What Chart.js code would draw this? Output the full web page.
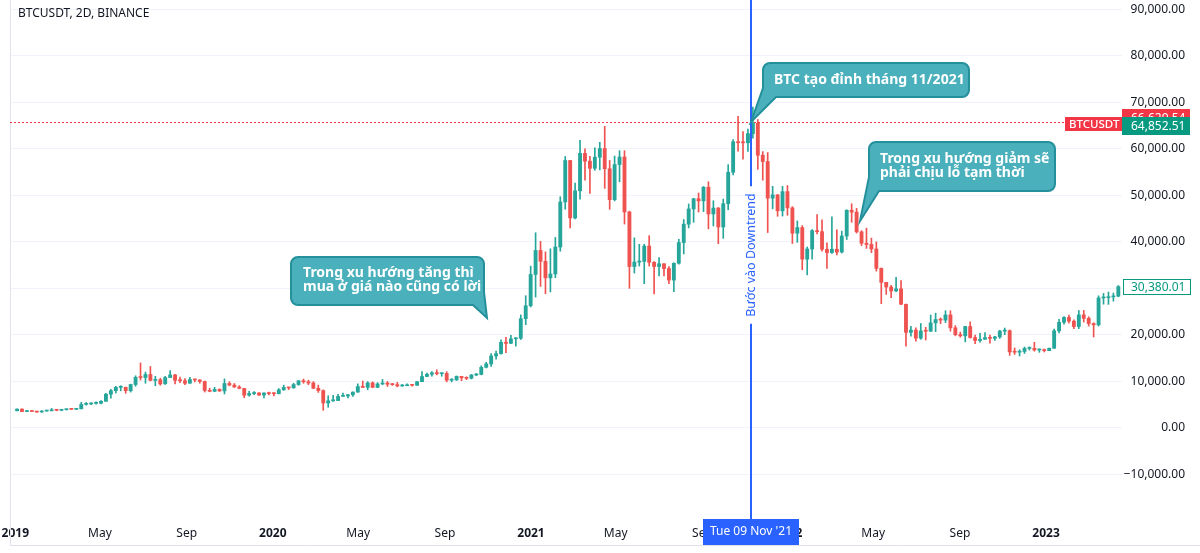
<!DOCTYPE html>
<html>
<head>
<meta charset="utf-8">
<title>BTCUSDT, 2D, BINANCE</title>
<script src="https://cdn.jsdelivr.net/npm/chart.js@4.4.0/dist/chart.umd.min.js"></script>
<style>
  html, body { margin: 0; padding: 0; background: #fff; }
</style>
</head>
<body>
<canvas id="btcChart" width="1200" height="553"></canvas>
<script>
// weekly candles, first week starts Mon 31 Dec 2018
var firstWeek = '2018-12-31';

var open = [
  3690,4040,3510,3540,3530,3410,3630,3680,3820,3790,
  3920,4000,3990,4100,5050,5150,5280,5300,5720,7250,
  8000,8720,8730,8000,9320,10860,10830,11480,10230,10340,
  9470,10820,11390,10230,10140,9600,10400,10310,9990,8060,
  7870,8270,7950,9550,9210,8800,8500,7040,7400,7510,
  7070,7510,7380,7350,8180,8700,8600,9320,10140,9920,
  9660,8530,8030,5360,5830,5880,6770,6860,7120,7700,
  8890,8720,9680,8720,9450,9670,9390,9300,9010,9070,
  9240,9160,9930,11050,11540,11850,11660,11710,10260,10330,
  11080,10770,10670,11370,11500,13030,13760,15480,15960,18410,
  18180,19150,19270,23480,26270,33000,38150,35830,32260,33090,
  38890,48580,57490,45140,50970,59020,57350,55820,58200,60060,
  55720,49070,56620,58240,46420,34700,35660,35800,39100,35600,
  34700,35290,34260,31780,35400,39850,43800,47080,49270,48810,
  51750,46000,47260,43200,48200,54960,61530,61310,61300,63270,
  65500,58620,57270,49400,50100,46680,50800,47300,41860,43080,
  36280,38470,42410,42200,38400,37700,38420,37800,41260,46800,
  46400,42150,39700,39450,38470,34300,31300,30290,29450,29900,
  26580,20550,21030,19300,20850,20790,22580,23300,23180,24300,
  21520,20050,19800,21800,19420,18800,19050,19420,19260,19570,
  20810,20900,16330,16280,16430,17090,17100,16750,16840,16620,
  17130,20870,22700,23750,22950,21800,24300,23560,22430,22150,
  27950,27990,28170,28320
];
var high = [
  4090,4100,3740,3620,3530,3730,3700,4200,3900,3980,
  4050,4080,4140,5500,5470,5400,5630,5900,7450,8300,
  8950,9080,8800,9400,11200,13970,12000,13200,11100,10680,
  11100,12330,11540,10950,10620,10900,10480,10360,10070,8530,
  8720,8410,10540,9950,9550,9090,8500,7850,7800,7620,
  7520,7700,7600,8460,9190,8750,9580,10150,10500,10250,
  9960,9190,8180,6900,6980,7200,7470,7200,7740,9470,
  10070,9950,9900,9740,10430,9990,9580,9800,9350,9480,
  9350,10000,12120,11800,12090,12480,11800,12090,10600,11180,
  11100,10990,11490,11720,13350,14100,15970,16500,18950,19490,
  19880,19420,24300,28420,34780,41950,40100,37850,38500,40950,
  49700,58350,57540,52640,61840,60000,58400,60200,61400,64850,
  57500,58450,59600,59600,46600,40850,39480,39500,41330,35750,
  36600,35290,34700,35500,40550,44800,48150,49380,50500,51900,
  52920,48840,47400,49200,56600,62000,67000,63700,64270,69000,
  66300,59400,59200,51950,50200,51950,52100,47570,44500,43500,
  38900,42650,45850,44750,39800,45400,42600,42300,46900,48200,
  47200,42400,42950,40800,40000,34400,31300,30650,32400,31700,
  26600,21850,21500,22450,21620,24280,24670,23650,25200,25200,
  22000,20600,21860,22800,19950,20350,20480,19950,19700,21000,
  21470,21070,17190,16800,17400,17420,18400,17000,16970,17170,
  21260,23370,23950,24250,23250,25250,25250,23900,22600,28400,
  28900,29200,29000,30600
];
var low = [
  3630,3470,3500,3480,3350,3370,3580,3660,3670,3680,
  3830,3960,3950,4090,4900,5020,5080,5150,5680,6400,
  7500,7980,7450,7700,8950,10300,9600,10100,9070,9170,
  9360,10800,9470,9730,9320,9600,9880,9600,7710,7760,
  7780,7830,7300,9050,8680,8400,6500,6850,7150,7000,
  6430,7110,6860,7300,8080,8240,8550,9160,9600,9300,
  8410,7630,3780,4440,5690,5860,6770,6470,6750,7650,
  8660,8200,8640,8630,9270,8900,9140,8830,8940,9060,
  9000,9140,9930,11000,11150,11400,11110,9900,9880,10200,
  10140,10380,10530,11220,11410,12900,13220,14800,15850,16200,
  18110,17600,19000,22200,26000,28130,30420,28850,29240,32300,
  37990,47000,43000,44950,49200,53270,50430,55400,55470,51500,
  47000,48800,52900,43830,30000,33300,34800,31000,34800,28800,
  32700,32700,31000,29280,35200,37400,43000,44200,46400,46500,
  42800,43400,39600,40750,46900,54400,59500,57800,59450,62300,
  55600,53250,42000,47100,45500,45550,45700,39650,39900,34000,
  32900,36300,41700,38000,34300,37500,37200,37600,40500,44200,
  41900,39200,38600,37700,33700,26700,28700,28000,29300,26500,
  17600,19750,18650,19050,18900,20750,20700,22400,22650,20800,
  19800,19500,18500,19300,18100,18450,19000,18200,18800,19250,
  20050,15600,15800,15480,16000,16730,16500,16250,16330,16600,
  17100,20400,22300,22500,21350,21350,22750,21900,19550,21900,
  26600,26550,27250,28200
];
var close = [
  4040,3510,3540,3530,3410,3630,3680,3820,3790,3920,
  4000,3990,4100,5050,5150,5280,5300,5720,7250,8000,
  8720,8730,8000,9320,10860,10830,11480,10230,10340,9470,
  10820,11390,10230,10140,9600,10400,10310,9990,8060,7870,
  8270,7950,9550,9210,8800,8500,7040,7400,7510,7070,
  7510,7380,7350,8180,8700,8600,9320,10140,9920,9660,
  8530,8030,5360,5830,5880,6770,6860,7120,7700,8890,
  8720,9680,8720,9450,9670,9390,9300,9010,9070,9240,
  9160,9930,11050,11540,11850,11660,11710,10260,10330,11080,
  10770,10670,11370,11500,13030,13760,15480,15960,18410,18180,
  19150,19270,23480,26270,33000,38150,35830,32260,33090,38890,
  48580,57490,45140,50970,59020,57350,55820,58200,60060,55720,
  49070,56620,58240,46420,34700,35660,35800,39100,35600,34700,
  35290,34260,31780,35400,39850,43800,47080,49270,48810,51750,
  46000,47260,43200,48200,54960,61530,61310,61300,63270,65500,
  58620,57270,49400,50100,46680,50800,47300,41860,43080,36280,
  38470,42410,42200,38400,37700,38420,37800,41260,46800,46400,
  42150,39700,39450,38470,34300,31300,30290,29450,29900,26580,
  20550,21030,19300,20850,20790,22580,23300,23180,24300,21520,
  20050,19800,21800,19420,18800,19050,19420,19260,19570,20810,
  20900,16330,16280,16430,17090,17100,16750,16840,16620,17130,
  20870,22700,23750,22950,21800,24300,23560,22430,22150,27950,
  27990,28170,28320,30380
];

var yTicks = [-10000, 0, 10000, 20000, 30000, 40000, 50000, 60000, 70000, 80000, 90000];
var xTickDates = ['2019-01-01','2019-05-01','2019-09-01','2020-01-01','2020-05-01','2020-09-01',
  '2021-01-01','2021-05-01','2021-09-01','2022-01-01','2022-05-01','2022-09-01','2023-01-01'];
var xTickLabels = ['2019','May','Sep','2020','May','Sep','2021','May','Sep','2022','May','Sep','2023'];

var topDate = '2021-11-09';
var topDateLabel = "Tue 09 Nov '21";
var lastPrice = 30380.01;
var markPrice = 65700;
var redTag = 66629.54, greenTag = 64852.51;

var UP = '#26a69a', DOWN = '#ef5350';
var DAY_MS = 86400000, ORIGIN = Date.UTC(2019, 0, 1);

function dayOf(s) {
  var p = s.split('-').map(Number);
  return (Date.UTC(p[0], p[1] - 1, p[2]) - ORIGIN) / DAY_MS;
}
function fmt(v) {
  var s = Math.abs(v).toLocaleString('en-US', { minimumFractionDigits: 2, maximumFractionDigits: 2 });
  return (v < 0 ? '\u2212' : '') + s;
}

// candle centre = middle of the week
var weekMid = close.map(function (_, i) { return dayOf(firstWeek) + i * 7 + 3.5; });
var bodies = close.map(function (c, i) { return { x: weekMid[i], y: [open[i], c] }; });
var wicks = close.map(function (c, i) { return { x: weekMid[i], y: [low[i], high[i]] }; });
var candleColor = function (ctx) { return close[ctx.dataIndex] >= open[ctx.dataIndex] ? UP : DOWN; };

function bubble(c, b) {
  var x0 = b.box[0], y0 = b.box[1], x1 = b.box[2], y1 = b.box[3], r = 7;
  c.beginPath();
  c.moveTo(x0 + r, y0);
  c.lineTo(x1 - r, y0);
  c.arcTo(x1, y0, x1, y0 + r, r);
  if (b.corner === 'br') {
    c.lineTo(x1, b.edge); c.lineTo(b.tip[0], b.tip[1]); c.lineTo(b.base, y1);
  } else {
    c.lineTo(x1, y1 - r); c.arcTo(x1, y1, x1 - r, y1, r);
  }
  if (b.corner === 'bl') {
    c.lineTo(b.base, y1); c.lineTo(b.tip[0], b.tip[1]); c.lineTo(x0, b.edge);
  } else {
    c.lineTo(x0 + r, y1); c.arcTo(x0, y1, x0, y1 - r, r);
  }
  c.lineTo(x0, y0 + r);
  c.arcTo(x0, y0, x0 + r, y0, r);
  c.closePath();
  c.fillStyle = '#4ab0bc';
  c.fill();
  c.strokeStyle = '#24909c';
  c.lineWidth = 2;
  c.stroke();
  c.fillStyle = '#ffffff';
  c.font = 'bold 14px "Noto Sans"';
  c.textAlign = 'left';
  c.textBaseline = 'middle';
  b.lines.forEach(function (t, i) { c.fillText(t, b.tx, b.ty + i * 14); });
}

function tag(c, x0, x1, yc, h, fill, stroke, text, color, font, tx) {
  c.fillStyle = fill;
  c.fillRect(x0, Math.round(yc - h / 2), x1 - x0, h);
  if (stroke) {
    c.strokeStyle = stroke; c.lineWidth = 1;
    c.strokeRect(x0 + 0.5, Math.round(yc - h / 2) + 0.5, x1 - x0 - 1, h - 1);
  }
  c.fillStyle = color;
  c.font = font;
  c.textAlign = 'left';
  c.textBaseline = 'middle';
  c.fillText(text, tx, yc + 0.5);
}

var callouts = [
  { lines: ['BTC tạo đỉnh tháng 11/2021'], box: [763, 63, 969, 97], corner: 'bl', edge: 88, base: 776, tip: [751, 122], tx: 774, ty: 80 },
  { lines: ['Trong xu hướng giảm sẽ', 'phải chịu lỗ tạm thời'], box: [869, 142, 1055, 191], corner: 'bl', edge: 177, base: 879, tip: [860, 221], tx: 880, ty: 159 },
  { lines: ['Trong xu hướng tăng thì', 'mua ở giá nào cũng có lời'], box: [291, 257, 484, 305], corner: 'br', edge: 292, base: 473, tip: [487, 318], tx: 303, ty: 273 }
];

var overlay = {
  id: 'overlay',
  beforeDraw: function (chart) {
    var c = chart.ctx;
    c.save();
    c.fillStyle = '#ffffff';
    c.fillRect(0, 0, chart.width, chart.height);
    c.restore();
  },
  afterDraw: function (chart) {
    var c = chart.ctx, xs = chart.scales.x, ys = chart.scales.y, a = chart.chartArea;
    c.save();

    // pane frame
    c.strokeStyle = '#e0e3eb';
    c.lineWidth = 1;
    c.beginPath();
    c.moveTo(a.left + 0.5, 0); c.lineTo(a.left + 0.5, 545);
    c.moveTo(a.left, 545.5); c.lineTo(chart.width, 545.5);
    c.stroke();

    // last price dotted line
    var my = Math.round(ys.getPixelForValue(markPrice)) + 0.5;
    c.strokeStyle = '#f23645';
    c.setLineDash([2, 2]);
    c.beginPath(); c.moveTo(a.left, my); c.lineTo(a.right, my); c.stroke();
    c.setLineDash([]);

    // price scale tags
    var f12 = '12px "Noto Sans"';
    tag(c, a.right, 1190, ys.getPixelForValue(redTag), 18, '#f23645', null, fmt(redTag), '#ffffff', f12, a.right + 9);
    tag(c, a.right, 1190, ys.getPixelForValue(greenTag), 18, '#089981', null, fmt(greenTag), '#ffffff', f12, a.right + 9);
    tag(c, 1065, a.right, ys.getPixelForValue(greenTag) - 2, 14, '#f23645', null, 'BTCUSDT', '#ffffff', '500 11.5px "Noto Sans"', 1069);
    tag(c, a.right + 1, 1191, ys.getPixelForValue(lastPrice), 16, '#ffffff', '#089981', fmt(lastPrice), '#089981', f12, a.right + 9);

    // title
    c.fillStyle = '#131722';
    c.font = '12px "Noto Sans"';
    c.textAlign = 'left';
    c.textBaseline = 'middle';
    c.fillText('BTCUSDT, 2D, BINANCE', 18, 14);

    // vertical marker with rotated caption
    var vx = Math.round(xs.getPixelForValue(dayOf(topDate)));
    var label = 'Bước vào Downtrend';
    c.font = '12.5px "Noto Sans"';
    var half = c.measureText(label).width / 2 + 7;
    var cy = 255;
    c.strokeStyle = '#2962ff';
    c.lineWidth = 2;
    c.beginPath();
    c.moveTo(vx, 0); c.lineTo(vx, cy - half);
    c.moveTo(vx, cy + half); c.lineTo(vx, a.bottom);
    c.stroke();
    c.save();
    c.translate(vx, cy);
    c.rotate(-Math.PI / 2);
    c.fillStyle = '#2962ff';
    c.textAlign = 'center';
    c.textBaseline = 'middle';
    c.fillText(label, 0, 0);
    c.restore();

    // date tag on time axis
    c.fillStyle = '#2962ff';
    c.fillRect(vx - 48, 519, 96, 26);
    c.fillStyle = '#ffffff';
    c.font = '12px "Noto Sans"';
    c.textAlign = 'center';
    c.textBaseline = 'middle';
    c.fillText(topDateLabel, vx, 532);

    callouts.forEach(function (b) { bubble(c, b); });
    c.restore();
  }
};

Chart.defaults.font.family = '"Noto Sans", sans-serif';

new Chart(document.getElementById('btcChart'), {
  type: 'bar',
  data: {
    datasets: [
      { label: 'body', data: bodies, backgroundColor: candleColor, barThickness: 3.2, grouped: false, minBarLength: 1 },
      { label: 'wick', data: wicks, backgroundColor: candleColor, barThickness: 1, grouped: false }
    ]
  },
  options: {
    responsive: false,
    animation: false,
    layout: { padding: { left: 10, top: 0, right: 15, bottom: 0 } },
    plugins: { legend: { display: false }, tooltip: { enabled: false } },
    scales: {
      x: {
        type: 'linear',
        min: -7.5,
        max: 1568.7,
        offset: false,
        grid: { display: false, drawTicks: false },
        border: { display: false },
        afterBuildTicks: function (s) { s.ticks = xTickDates.map(function (d) { return { value: dayOf(d) }; }); },
        afterFit: function (s) { s.height = 33; s.paddingLeft = 0; s.paddingRight = 0; },
        ticks: {
          autoSkip: false,
          maxRotation: 0,
          padding: 6,
          color: '#131722',
          font: function (ctx) {
            return { size: 12, weight: /^\d{4}$/.test(xTickLabels[ctx.index]) ? 'bold' : 'normal' };
          },
          callback: function (v, i) { return xTickLabels[i]; }
        }
      },
      y: {
        position: 'right',
        min: -19800,
        max: 92000,
        grid: { color: '#f0f3fa', drawTicks: false },
        border: { display: false },
        afterBuildTicks: function (s) { s.ticks = yTicks.map(function (v) { return { value: v }; }); },
        afterFit: function (s) { s.width = 63; s.paddingTop = 0; s.paddingBottom = 0; },
        ticks: {
          crossAlign: 'far',
          padding: 0,
          color: '#131722',
          font: { size: 12 },
          callback: function (v) { return fmt(v); }
        }
      }
    }
  },
  plugins: [overlay]
});
</script>
</body>
</html>
